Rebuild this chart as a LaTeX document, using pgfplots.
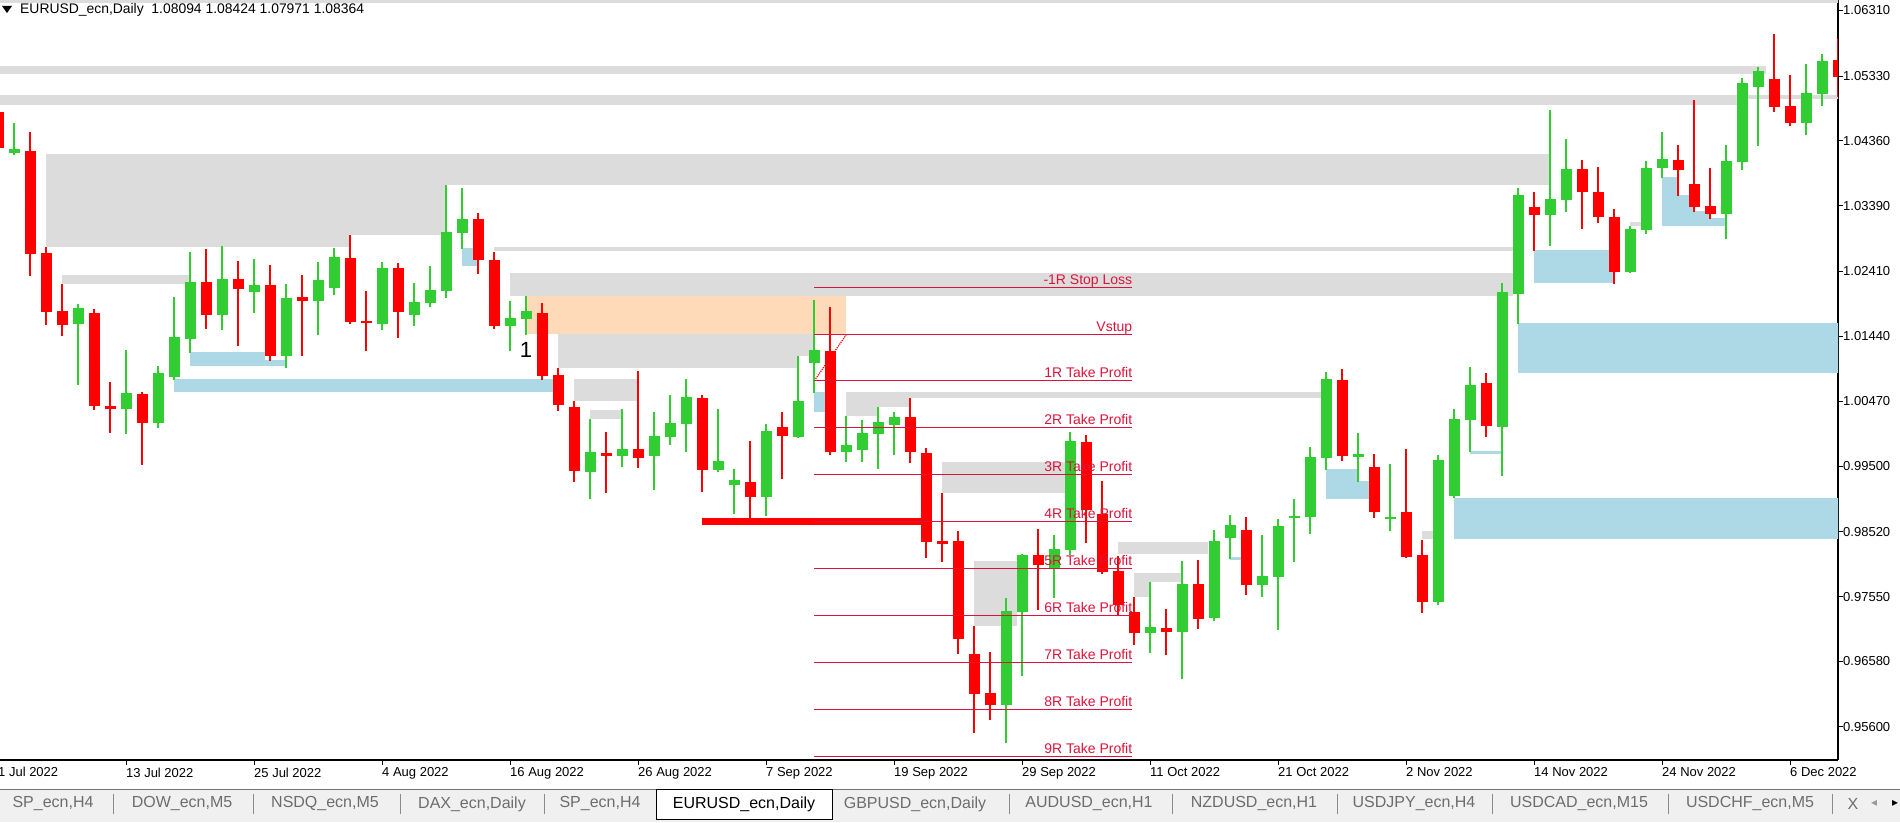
\documentclass[border=0pt]{standalone}
\usepackage{pgfplots}
\pgfplotsset{compat=1.18}
\usepackage{pgfplotstable}
\usepackage{fontspec}
\setmainfont{Liberation Sans}
\newfontfamily\symfont{DejaVu Sans}

\definecolor{cgreen}{HTML}{32CD32}
\definecolor{cred}{HTML}{FF0000}
\definecolor{zgray}{HTML}{DCDCDC}
\definecolor{zblue}{HTML}{ADD8E6}
\definecolor{zpeach}{HTML}{FFDAB9}
\definecolor{crim}{HTML}{DC143C}
\definecolor{tabbg}{HTML}{F0F0F0}
\definecolor{tabtxt}{HTML}{6D6D6D}

\newcommand{\tickfont}{\fontsize{13}{15}\selectfont}
\newcommand{\rfont}{\fontsize{14}{16}\selectfont}
\newcommand{\tabfont}{\fontsize{16}{18}\selectfont}

% daily candles, bar index i (0 = 1 Jul 2022)
\pgfplotstableread{
i o h l c
1 1.04185 1.04633 1.04150 1.04240
5 1.01629 1.01923 1.00712 1.01863
8 1.00358 1.01235 0.99984 1.00592
10 1.00149 1.00996 1.00074 1.00891
11 1.00836 1.02027 1.00786 1.01429
12 1.01404 1.02700 1.01195 1.02251
14 1.01763 1.02790 1.01534 1.02296
16 1.02107 1.02595 1.01793 1.02207
18 1.01150 1.02222 1.00971 1.02012
20 1.01973 1.02550 1.01464 1.02281
21 1.02167 1.02765 1.02057 1.02625
24 1.01629 1.02551 1.01534 1.02461
26 1.01763 1.02237 1.01599 1.01953
27 1.01943 1.02491 1.01883 1.02132
28 1.02122 1.03702 1.02017 1.02999
29 1.02989 1.03657 1.02750 1.03193
32 1.01599 1.01968 1.01220 1.01713
33 1.01698 1.02042 1.01464 1.01818
37 0.99416 1.00204 0.99013 0.99710
39 0.99655 1.00353 0.99491 0.99755
41 0.99655 1.00308 0.99147 0.99949
42 0.99939 1.00562 0.99820 1.00144
43 1.00134 1.00801 0.99715 1.00532
45 0.99446 1.00353 0.99416 0.99576
46 0.99222 0.99461 0.98788 0.99292
48 0.99042 1.00129 0.98758 1.00024
50 0.99939 1.01145 0.99920 1.00473
51 1.01046 1.01983 1.00597 1.01235
53 0.99715 1.00248 0.99566 0.99815
54 0.99745 1.00189 0.99566 0.99994
55 0.99984 1.00383 0.99461 1.00159
56 1.00119 1.00308 0.99670 1.00233
63 0.95933 0.97528 0.95365 0.97333
64 0.97324 0.98186 0.96367 0.98171
66 0.97976 0.98470 0.97533 0.98260
67 0.98250 1.00009 0.98171 0.99875
72 0.97010 0.97767 0.96711 0.97094
74 0.97025 0.98081 0.96322 0.97737
76 0.97234 0.98544 0.97189 0.98380
77 0.98430 0.98769 0.98116 0.98619
79 0.97727 0.98470 0.97548 0.97857
80 0.97847 0.98709 0.97054 0.98604
81 0.98729 0.99008 0.98071 0.98759
82 0.98744 0.99785 0.98490 0.99636
83 0.99626 1.00906 0.99446 1.00802
85 0.99641 0.99994 0.99267 0.99676
87 0.98720 0.99540 0.98525 0.98741
90 0.97463 0.99674 0.97422 0.99598
91 0.99050 1.00349 0.99019 1.00200
92 1.00189 1.00983 0.99710 1.00720
94 1.00081 1.02235 0.99349 1.02096
95 1.02076 1.03653 1.01627 1.03550
97 1.03256 1.04823 1.02792 1.03488
98 1.03483 1.04390 1.03302 1.03941
102 1.02406 1.03086 1.02390 1.03039
103 1.03029 1.04060 1.02972 1.03957
104 1.03962 1.04493 1.03802 1.04091
108 1.03271 1.04297 1.02890 1.04060
109 1.04044 1.05300 1.03926 1.05230
110 1.05173 1.05463 1.04286 1.05407
113 1.04622 1.05510 1.04443 1.05078
114 1.05062 1.05667 1.04890 1.05557
}\up

\pgfplotstableread{
i o h l c
0 1.04800 1.04840 1.04260 1.04260
2 1.04210 1.04494 1.02346 1.02675
3 1.02685 1.02780 1.01609 1.01808
4 1.01818 1.02222 1.01449 1.01614
6 1.01788 1.01848 1.00338 1.00403
7 1.00403 1.00757 0.99999 1.00358
9 1.00577 1.00607 0.99521 1.00149
13 1.02251 1.02745 1.01549 1.01763
15 1.02296 1.02565 1.01295 1.02152
17 1.02207 1.02506 1.01075 1.01150
19 1.02027 1.02356 1.01150 1.01973
22 1.02610 1.02954 1.01629 1.01659
23 1.01674 1.02117 1.01225 1.01644
25 1.02461 1.02536 1.01419 1.01808
30 1.03193 1.03283 1.02376 1.02585
31 1.02580 1.02700 1.01554 1.01599
34 1.01788 1.01938 1.00792 1.00851
35 1.00861 1.00966 1.00328 1.00413
36 1.00383 1.00473 0.99267 0.99431
38 0.99695 1.00009 0.99102 0.99655
40 0.99755 1.00921 0.99476 0.99626
44 1.00517 1.00562 0.99117 0.99446
47 0.99262 0.99875 0.98714 0.99042
49 1.00084 1.00308 0.99312 0.99954
52 1.01220 1.01878 0.99670 0.99715
57 1.00233 1.00517 0.99551 0.99715
58 0.99695 0.99770 0.98131 0.98370
59 0.98380 0.99098 0.98071 0.98330
60 0.98380 0.98529 0.96696 0.96920
61 0.96691 0.97109 0.95515 0.96098
62 0.96108 0.96721 0.95709 0.95933
65 0.98171 0.98559 0.97354 0.98026
68 0.99860 0.99965 0.98355 0.98848
69 0.98784 0.99277 0.97892 0.97922
70 0.97931 0.98156 0.97274 0.97428
71 0.97318 0.97543 0.96830 0.97010
73 0.97079 0.97363 0.96681 0.97025
75 0.97737 0.98096 0.97069 0.97219
78 0.98544 0.98739 0.97578 0.97727
84 1.00787 1.00951 0.99581 0.99656
86 0.99486 0.99681 0.98729 0.98818
88 0.98808 0.99761 0.98123 0.98148
89 0.98164 0.98401 0.97298 0.97463
93 1.00736 1.00890 0.99932 1.00097
96 1.03369 1.03596 1.02715 1.03256
99 1.03941 1.04075 1.03045 1.03601
100 1.03596 1.03967 1.03137 1.03225
101 1.03220 1.03338 1.02225 1.02406
105 1.04075 1.04297 1.03539 1.03931
106 1.03715 1.04967 1.03302 1.03374
107 1.03385 1.03957 1.03194 1.03271
111 1.05291 1.05957 1.04796 1.04874
112 1.04882 1.05344 1.04584 1.04622
115 1.05573 1.05887 1.05023 1.05313
}\dn

% rectangle objects: x from, x to, price low, price high, colour
\newcommand{\zone}[5]{\addplot[draw=none, fill=#5, forget plot] coordinates {(#1,#3) (#2,#3) (#2,#4) (#1,#4)} -- cycle;}
% trade levels
\newcommand{\rlev}[2]{%
  \addplot[crim, line width=1.3pt, forget plot] coordinates {(51,#1) (70.9,#1)};
  \node[crim, anchor=base east, inner sep=0pt, font=\rfont, yshift=3pt] at (axis cs:70.9,#1) {#2};}

\pgfplotsset{
  candle/.style 2 args={only marks, mark=none, mark size=0pt,
    mark options={draw=none, fill=none}, forget plot,
    error bars/y dir=both, error bars/y explicit, error bars/error mark=none,
    error bars/error bar style={line width=#2, #1, solid}},
}

\begin{document}
\begin{tikzpicture}
\fill[white] (0,0) rectangle (1900pt,822pt);
\path[use as bounding box] (0,0) rectangle (1900pt,822pt);
\begin{axis}[
  at={(0pt,62pt)}, anchor=south west,
  width=1838pt, height=760pt, scale only axis,
  xmin=0.125, xmax=115, ymin=0.951065, ymax=1.064670,
  axis x line*=bottom, axis y line*=right,
  axis line style={black, line width=1.2pt},
  tick align=outside, major tick length=5pt,
  tick style={black, line width=1pt},
  xtick={8,16,24,32,40,48,56,64,72,80,88,96,104,112},
  xticklabels={13 Jul 2022, 25 Jul 2022, 4 Aug 2022, 16 Aug 2022, 26 Aug 2022,
    7 Sep 2022, 19 Sep 2022, 29 Sep 2022, 11 Oct 2022, 21 Oct 2022,
    2 Nov 2022, 14 Nov 2022, 24 Nov 2022, 6 Dec 2022},
  xticklabel style={anchor=north west, inner sep=0pt, font=\tickfont, yshift=-2.5pt},
  ytick={1.06310,1.05330,1.04360,1.03390,1.02410,1.01440,1.00470,0.99500,0.98520,0.97550,0.96580,0.95600},
  yticklabels={1.06310,1.05330,1.04360,1.03390,1.02410,1.01440,1.00470,0.99500,0.98520,0.97550,0.96580,0.95600},
  yticklabel style={anchor=west, inner sep=0pt, font=\tickfont},
]
% zones
\zone{-1}{116}{1.06422}{1.06467}{zgray}
\zone{-1}{110.5}{1.05365}{1.05480}{zgray}
\zone{-1}{108.7}{1.04902}{1.05047}{zgray}
\zone{108.7}{116}{1.04980}{1.05047}{zgray}
\zone{3}{97.06}{1.03702}{1.04165}{zgray}
\zone{3}{28}{1.02954}{1.03702}{zgray}
\zone{3}{22}{1.02779}{1.02954}{zgray}
\zone{4}{12}{1.02226}{1.02356}{zgray}
\zone{12}{16.7}{1.01000}{1.01205}{zblue}
\zone{16.7}{18}{1.01000}{1.01086}{zblue}
\zone{11}{34.7}{1.00607}{1.00802}{zblue}
\zone{29}{30}{1.02495}{1.02760}{zblue}
\zone{31}{94.7}{1.02708}{1.02775}{zgray}
\zone{32}{94.7}{1.02042}{1.02386}{zgray}
\zone{33}{53}{1.01474}{1.02042}{zpeach}
\zone{35}{50}{1.00966}{1.01474}{zgray}
\zone{50}{51}{1.01146}{1.01474}{zgray}
\zone{36}{40}{1.00473}{1.00802}{zgray}
\zone{37}{39}{1.00204}{1.00338}{zgray}
\zone{51}{52}{1.00308}{1.00607}{zblue}
\zone{53}{82.7}{1.00522}{1.00607}{zgray}
\zone{53}{55}{1.00249}{1.00522}{zgray}
\zone{55}{57}{1.00383}{1.00522}{zgray}
\zone{59}{66.7}{0.99098}{0.99561}{zgray}
\zone{61}{63.7}{0.97110}{0.98081}{zgray}
\zone{70}{75.6}{0.98186}{0.98365}{zgray}
\zone{71}{74}{0.97767}{0.97902}{zgray}
\zone{71}{72}{0.97543}{0.97767}{zgray}
\zone{77}{77.7}{0.98096}{0.98141}{zblue}
\zone{83}{85}{0.99012}{0.99456}{zblue}
\zone{85}{85.75}{0.99012}{0.99277}{zblue}
\zone{89}{89.7}{0.98405}{0.98534}{zgray}
\zone{91}{116}{0.98405}{0.99029}{zblue}
\zone{92}{94}{0.99679}{0.99720}{zblue}
\zone{95}{116}{1.00890}{1.01633}{zblue}
\zone{96}{101}{1.02235}{1.02726}{zblue}
\zone{102}{102.7}{1.03086}{1.03148}{zgray}
\zone{104}{105}{1.03086}{1.03818}{zblue}
\zone{105}{106}{1.03086}{1.03549}{zblue}
\zone{106}{107}{1.03086}{1.03307}{zblue}
\zone{107}{108}{1.03086}{1.03204}{zblue}
% horizontal level
\addplot[cred, line width=6.5pt, forget plot] coordinates {(44,0.98675) (57.75,0.98675)};
% candles
\addplot[candle={cgreen}{1.3pt}] table[x=i, y expr={(\thisrow{h}+\thisrow{l})/2}, y error expr={(\thisrow{h}-\thisrow{l})/2}] {\up};
\addplot[candle={cred}{1.3pt}] table[x=i, y expr={(\thisrow{h}+\thisrow{l})/2}, y error expr={(\thisrow{h}-\thisrow{l})/2}] {\dn};
\addplot[candle={cgreen}{11pt}] table[x=i, y expr={(\thisrow{o}+\thisrow{c})/2}, y error expr={abs(\thisrow{c}-\thisrow{o})/2}] {\up};
\addplot[candle={cred}{11pt}] table[x=i, y expr={(\thisrow{o}+\thisrow{c})/2}, y error expr={abs(\thisrow{c}-\thisrow{o})/2}] {\dn};
% trade
\addplot[cred, densely dotted, line width=1.2pt, forget plot] coordinates {(51.1,1.00802) (53.0,1.01459)};
\rlev{1.02172}{-1R Stop Loss}
\rlev{1.01470}{Vstup}
\rlev{1.00782}{1R Take Profit}
\rlev{1.00080}{2R Take Profit}
\rlev{0.99377}{3R Take Profit}
\rlev{0.98675}{4R Take Profit}
\rlev{0.97972}{5R Take Profit}
\rlev{0.97269}{6R Take Profit}
\rlev{0.96567}{7R Take Profit}
\rlev{0.95864}{8R Take Profit}
\rlev{0.95162}{9R Take Profit}
\node[anchor=base, inner sep=0pt, font=\fontsize{22}{24}\selectfont] at (axis cs:33,1.01116) {1};
\end{axis}
% header and first date label
\fill[black] (2pt,816pt) -- (12pt,816pt) -- (7pt,809pt) -- cycle;
\node[anchor=base west, inner sep=0pt, font=\fontsize{13.9}{15}\selectfont] at (20pt,808pt) {EURUSD\_ecn,Daily\ \ 1.08094 1.08424 1.07971 1.08364};
\node[anchor=north west, inner sep=0pt, font=\tickfont] at (-2pt,55pt) {1 Jul 2022};
% tab bar
\fill[tabbg] (0,0) rectangle (1900pt,33pt);
\draw[black!55, line width=1pt] (0,33pt) -- (1900pt,33pt);
\filldraw[fill=white, draw=black, line width=1pt] (656pt,3pt) rectangle (832pt,33pt);
\foreach \x in {113,253,400,544,1009,1172,1337,1492,1668,1832}
  \draw[black!45, line width=1pt] (\x pt,8pt) -- (\x pt,28pt);
\begin{scope}[every node/.style={font=\tabfont, text=tabtxt, inner sep=0pt}]
\node at (53pt,18pt) {SP\_ecn,H4};
\node at (182pt,18pt) {DOW\_ecn,M5};
\node at (325pt,18pt) {NSDQ\_ecn,M5};
\node at (472pt,18pt) {DAX\_ecn,Daily};
\node at (600pt,18pt) {SP\_ecn,H4};
\node[text=black] at (744pt,18pt) {EURUSD\_ecn,Daily};
\node at (915pt,18pt) {GBPUSD\_ecn,Daily};
\node at (1089pt,18pt) {AUDUSD\_ecn,H1};
\node at (1254pt,18pt) {NZDUSD\_ecn,H1};
\node at (1414pt,18pt) {USDJPY\_ecn,H4};
\node at (1579pt,18pt) {USDCAD\_ecn,M15};
\node at (1750pt,18pt) {USDCHF\_ecn,M5};
\node at (1853pt,18pt) {X};
\node[font=\symfont\fontsize{12}{14}\selectfont, text=black!40] at (1874pt,19pt) {◂};
\node[font=\symfont\fontsize{12}{14}\selectfont, text=black] at (1895pt,19pt) {▸};
\end{scope}
\end{tikzpicture}
\end{document}
